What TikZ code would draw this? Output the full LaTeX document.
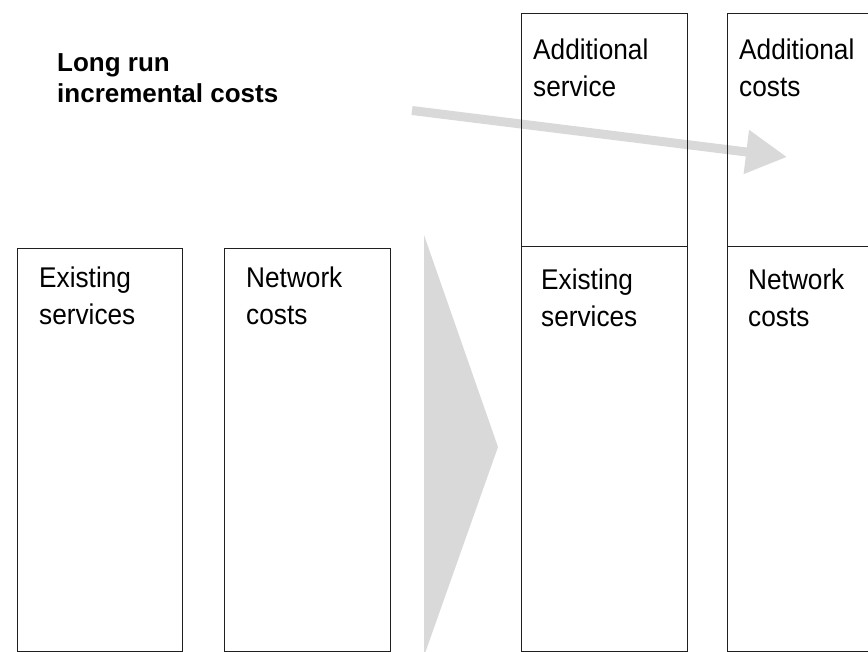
\documentclass[tikz,border=0pt]{standalone}
\usepackage{fontspec}
\setmainfont{Liberation Sans}
\newfontfamily\regfont[FakeStretch=0.92]{Liberation Sans}
\usetikzlibrary{arrows.meta}
\definecolor{lightgr}{HTML}{D9D9D9}
\definecolor{boxline}{HTML}{202020}
\tikzset{
  box/.style={draw=boxline, line width=1bp},
  lbl/.style={anchor=base west, inner sep=0pt, align=left,
    font=\regfont\fontsize{28.5bp}{37bp}\selectfont},
  title/.style={anchor=base west, inner sep=0pt, align=left,
    font=\bfseries\fontsize{26bp}{31bp}\selectfont},
  bigarrow/.style={draw=lightgr, line width=9bp, -{Triangle[length=41bp,width=42bp]}},
  chevron/.style={fill=lightgr, draw=none}
}
\begin{document}
\begin{tikzpicture}[x=1bp,y=-1bp]
\useasboundingbox (0,0) rectangle (868,652);
% transition chevron
\fill[chevron] (424,235) -- (498,447) -- (424,656) -- cycle;
% long run arrow
\coordinate (arrS) at (412,110.5);
\coordinate (arrE) at (787,157);
\draw[bigarrow] (arrS) -- (arrE);
% boxes
\draw[box] (17,248) rectangle (182,651);
\draw[box] (224,248) rectangle (390,651);
\draw[box] (521,14) rectangle (687,246);
\draw[box] (521,246) rectangle (687,651);
\draw[box] (727,14) -- (872,14);
\draw[box] (727,246) -- (872,246);
\draw[box] (727,651) -- (872,651);
\draw[box] (727,14) -- (727,651);
% texts (anchored at last line's baseline)
\node[title] (lric) at (57,103) {Long run\\incremental costs};
\node[lbl] (es1) at (39,324) {Existing\\services};
\node[lbl] (nc1) at (246,324) {Network\\costs};
\node[lbl] (as) at (533,97) {Additional\\service};
\node[lbl] (ac) at (739,97) {Additional\\costs};
\node[lbl] (es2) at (541,326) {Existing\\services};
\node[lbl] (nc2) at (748,326) {Network\\costs};
\end{tikzpicture}
\end{document}
